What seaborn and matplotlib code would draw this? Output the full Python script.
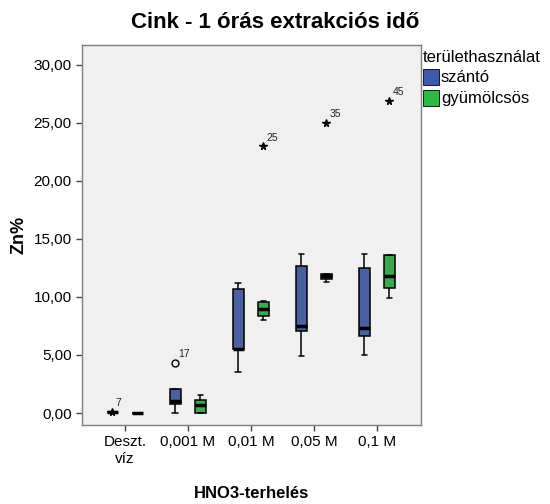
import numpy as np
import pandas as pd
import matplotlib
matplotlib.use("Agg")
import matplotlib.pyplot as plt
import seaborn as sns
from matplotlib.ticker import FuncFormatter
from matplotlib.patches import Patch

categories = ["Deszt.\nvíz", "0,001 M", "0,01 M", "0,05 M", "0,1 M"]
groups = ["szántó", "gyümölcsös"]

# five-number summaries: min, q1, median, q3, max
szanto = [
    [0.05, 0.05, 0.05, 0.05, 0.05],
    [0.03, 0.78, 1.03, 2.07, 2.07],
    [3.56, 5.49, 5.49, 10.69, 11.23],
    [4.91, 7.04, 7.53, 12.70, 13.71],
    [4.97, 6.64, 7.33, 12.47, 13.71],
]
gyumolcsos = [
    [0.0, 0.0, 0.0, 0.0, 0.0],
    [0.03, 0.03, 0.66, 1.12, 1.58],
    [8.02, 8.39, 8.97, 9.60, 9.66],
    [11.32, 11.55, 11.78, 12.0, 12.0],
    [9.89, 10.80, 11.78, 13.65, 13.65],
]

# outliers: (category index, group, value, label, marker)
out_cat = [0, 1, 2, 3, 4]
out_group = ["szántó", "szántó", "gyümölcsös", "gyümölcsös", "gyümölcsös"]
out_val = [0.12, 4.34, 23.0, 25.0, 26.9]
out_lab = ["7", "17", "25", "35", "45"]
out_mark = ["*", "o", "*", "*", "*"]

rows = []
for ci, cat in enumerate(categories):
    for v in szanto[ci]:
        rows.append((cat, "szántó", v))
    for v in gyumolcsos[ci]:
        rows.append((cat, "gyümölcsös", v))
df = pd.DataFrame(rows, columns=["cat", "group", "value"])

sns.set_style("white")
plt.rcParams["font.family"] = ["Liberation Sans", "DejaVu Sans"]
plt.rcParams["text.color"] = "black"
plt.rcParams["axes.labelcolor"] = "black"
plt.rcParams["xtick.color"] = "black"
plt.rcParams["ytick.color"] = "black"

colors = {"szántó": "#3E58AC", "gyümölcsös": "#2EB848"}

fig = plt.figure(figsize=(5.5, 5.04), dpi=100)
ax = fig.add_axes([82 / 550, 79 / 504, (421 - 82) / 550, (425 - 45) / 504])
ax.set_facecolor("#f0f0f0")

sns.boxplot(data=df, x="cat", y="value", hue="group", order=categories,
            hue_order=groups, palette=colors, whis=(0, 100), showfliers=False,
            width=0.8, gap=0.56, linecolor="black", linewidth=1.1,
            medianprops=dict(linewidth=2.5, color="black"),
            legend=False, ax=ax)

offsets = {"szántó": -0.2, "gyümölcsös": 0.2}
for c, g, v, lab, m in zip(out_cat, out_group, out_val, out_lab, out_mark):
    x = c + offsets[g]
    if m == "o":
        ax.plot([x], [v], marker="o", ms=5, mfc="none", mec="black", mew=1, ls="none")
    else:
        ax.plot([x], [v], marker="*", ms=5.5, color="black", ls="none")
    ax.text(x + 0.05, v + 0.3, lab, fontsize=7.5, ha="left", va="bottom", color="#222222")

ax.set_xlim(-0.68, 4.7)
ax.set_ylim(-1.03, 31.7)
ax.set_yticks([0, 5, 10, 15, 20, 25, 30])
ax.yaxis.set_major_formatter(FuncFormatter(lambda v, p: f"{v:.2f}".replace(".", ",")))
ax.tick_params(axis="both", direction="out", length=4, width=1, colors="#444444",
               labelcolor="black", labelsize=11, left=True, bottom=True)
for s in ax.spines.values():
    s.set_color("#7f7f7f")
    s.set_linewidth(1)

ax.set_xlabel("HNO3-terhelés", fontsize=12, fontweight="bold", va="center", color="black")
ax.xaxis.set_label_coords(0.5, -(493 - 425) / 380)
ax.set_ylabel("Zn%", fontsize=13, fontweight="bold", labelpad=4, color="black")

fig.text(0.5, 1 - 22 / 504, "Cink - 1 órás extrakciós idő", fontsize=16,
         fontweight="bold", ha="center", va="center", color="black")

handles = [Patch(facecolor=colors[g], edgecolor="black", linewidth=0.6) for g in groups]
leg = fig.legend(handles, groups, title="területhasználat", loc="upper left",
                 bbox_to_anchor=(421 / 550, 1 - 48 / 504), frameon=False,
                 fontsize=12, title_fontsize=12, handlelength=0.95,
                 handleheight=1.1, handletextpad=0.15, borderaxespad=0,
                 labelspacing=0.25, borderpad=0.1)
leg._legend_box.align = "left"
for t in leg.get_texts():
    t.set_color("black")
leg.get_title().set_color("black")

fig.savefig("out.png", dpi=100)
